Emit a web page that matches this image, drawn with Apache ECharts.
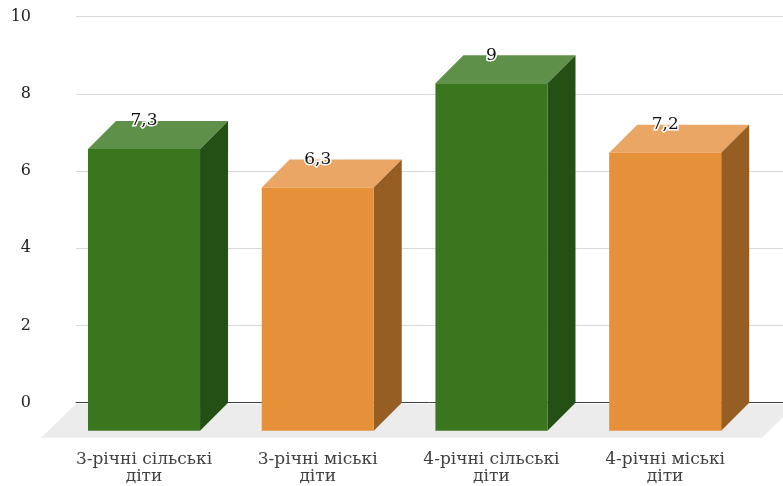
<!DOCTYPE html>
<html>
<head>
<meta charset="utf-8">
<script src="https://cdn.jsdelivr.net/npm/echarts@6/dist/echarts.min.js"></script>
<style>
  html, body { margin: 0; padding: 0; background: #fff; }
  #chart { width: 783px; height: 486px; }
</style>
</head>
<body>
<div id="chart"></div>
<script>
// Categories and values
const categories = ['3-річні сільські\nдіти', '3-річні міські\nдіти', '4-річні сільські\nдіти', '4-річні міські\nдіти'];
const values = [7.3, 6.3, 9, 7.2];
const valueLabels = ['7,3', '6,3', '9', '7,2'];
const yTicks = [0, 2, 4, 6, 8, 10];

// Face colours per bar: front, top, side
const palette = [
  { front: '#3a761e', top: '#5f9049', side: '#245015' },
  { front: '#e6913a', top: '#eaa664', side: '#965e23' },
  { front: '#3a761e', top: '#5f9049', side: '#245015' },
  { front: '#e6913a', top: '#eaa664', side: '#965e23' }
];

const DEPTH = 28;       // bar depth offset (px, toward lower-left)
const FLOOR_DEPTH = 35; // floor depth offset (px)
const X_MIN = -0.5527, X_MAX = 3.517;
const FONT = 'DejaVu Serif';

const chart = echarts.init(document.getElementById('chart'));

function renderBar(params, api) {
  const i = api.value(0);
  const v = api.value(1);
  const top = api.coord([i, v]);
  const base = api.coord([i, 0]);
  const w = api.size([1, 0])[0] * 0.645;
  const bl = top[0] - w / 2, br = top[0] + w / 2; // back edges
  const fl = bl - DEPTH, fr = br - DEPTH;          // front edges
  const fTop = top[1] + DEPTH, fBot = base[1] + DEPTH;
  const c = palette[params.dataIndex];
  return {
    type: 'group',
    children: [
      { type: 'polygon', shape: { points: [[fl, fTop], [bl, top[1]], [br, top[1]], [fr, fTop]] }, style: { fill: c.top } },
      { type: 'polygon', shape: { points: [[fr, fTop], [br, top[1]], [br, base[1]], [fr, fBot]] }, style: { fill: c.side } },
      { type: 'rect', shape: { x: fl, y: fTop, width: w, height: fBot - fTop }, style: { fill: c.front } },
      {
        type: 'text',
        x: top[0] - DEPTH, y: top[1],
        style: {
          text: valueLabels[params.dataIndex],
          fill: '#111', stroke: '#fff', lineWidth: 3,
          fontSize: 17, fontFamily: FONT,
          align: 'center', verticalAlign: 'middle'
        },
        z2: 10
      }
    ]
  };
}

function renderFloor(params, api) {
  const left = api.coord([X_MIN, 0]);
  const right = api.coord([X_MAX, 0]);
  const y = left[1] + 1;
  const xr = right[0] + 14;
  return {
    type: 'polygon',
    shape: { points: [[left[0], y], [xr, y], [xr - FLOOR_DEPTH, left[1] + FLOOR_DEPTH], [left[0] - FLOOR_DEPTH, left[1] + FLOOR_DEPTH]] },
    style: { fill: '#ececec' }
  };
}

chart.setOption({
  animation: false,
  grid: [
    { left: 76, right: 0, top: 16.7, bottom: 83.3 },
    { left: 57.15, right: 31.05, top: 16.7, bottom: 83.3 }
  ],
  xAxis: [
    {
      type: 'value', gridIndex: 0, min: X_MIN, max: X_MAX,
      axisLine: { show: true, onZero: true, lineStyle: { color: '#404040', width: 1 } },
      axisTick: { show: false }, axisLabel: { show: false }, splitLine: { show: false }
    },
    {
      type: 'category', gridIndex: 1, data: categories,
      axisLine: { show: false }, axisTick: { show: false }, splitLine: { show: false },
      axisLabel: { margin: 48, color: '#404040', fontSize: 17, fontFamily: FONT, lineHeight: 17, interval: 0 }
    }
  ],
  yAxis: [
    {
      type: 'value', gridIndex: 0, min: 0, max: 10, interval: 2,
      axisLine: { show: false }, axisTick: { show: false },
      axisLabel: {
        margin: 45, color: '#222', fontSize: 16, fontFamily: FONT,
        padding: [3, 0, 0, 0],
        formatter: (val) => (yTicks.indexOf(val) >= 0 ? String(val) : '')
      },
      splitLine: { lineStyle: { color: '#d9d9d9', width: 1 } }
    },
    { type: 'value', gridIndex: 1, min: 0, max: 10, show: false }
  ],
  series: [
    {
      type: 'custom', xAxisIndex: 0, yAxisIndex: 0, z: 1,
      renderItem: renderFloor, data: [[0, 0]], silent: true
    },
    {
      type: 'custom', xAxisIndex: 0, yAxisIndex: 0, z: 3,
      renderItem: renderBar,
      data: values.map((v, i) => [i, v])
    }
  ]
});
</script>
</body>
</html>
